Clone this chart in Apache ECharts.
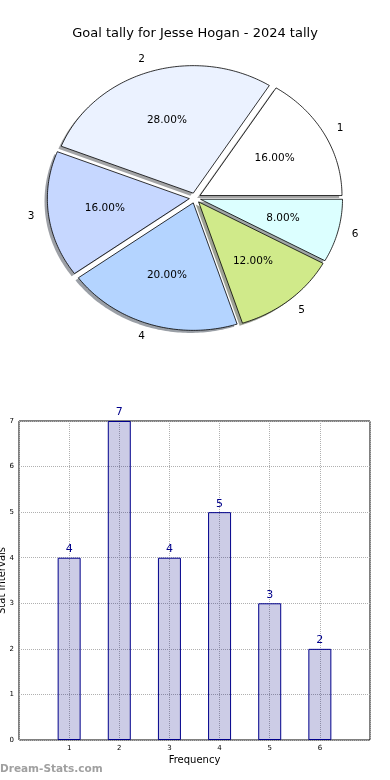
<!DOCTYPE html>
<html><head><meta charset="utf-8">
<script src="https://cdn.jsdelivr.net/npm/echarts@6/dist/echarts.min.js"></script>
<style>html,body{margin:0;padding:0;background:#fff}#c{width:390px;height:780px}</style>
</head><body><div id="c"></div>
<script>
const titleText = 'Goal tally for Jesse Hogan - 2024 tally';
const categories = ['1', '2', '3', '4', '5', '6'];
const values = [4, 7, 4, 5, 3, 2];
const sliceColors = ['#ffffff', '#ebf2ff', '#c6d7ff', '#b4d4ff', '#d0ea8a', '#dcffff'];
const barPositions = [1, 2, 3, 4, 5, 6];
const xTickLabels = ['', '1', '2', '3', '4', '5', '6', ''];
const yTickLabels = ['0', '1', '2', '3', '4', '5', '6', '7'];
const xAxisName = 'Frequency';
const yAxisName = 'Stat Intervals';
const watermark = 'Dream-Stats.com';

const FONT = 'DejaVu Sans';
const PIE = { cx: 195, cy: 198, rx: 142, ry: 127.5, explode: 0.04, shadowDx: -0.02, shadowDy: -0.02, pctDist: 0.6, labelDist: 1.1 };

const total = values.reduce((a, b) => a + b, 0);
const cum = [0];
values.forEach((v, i) => cum.push(cum[i] + v));

function geom(i) {
  const a0 = cum[i] / total * 2 * Math.PI;
  const a1 = cum[i + 1] / total * 2 * Math.PI;
  const mid = (a0 + a1) / 2;
  const ex = PIE.cx + PIE.explode * PIE.rx * Math.cos(mid);
  const ey = PIE.cy - PIE.explode * PIE.ry * Math.sin(mid);
  return { a0, a1, mid, ex, ey };
}
function wedgePoints(i, dx, dy) {
  const g = geom(i);
  const x0 = g.ex + dx, y0 = g.ey + dy;
  const pts = [[x0, y0]];
  const n = Math.max(8, Math.ceil((g.a1 - g.a0) / (Math.PI / 180)));
  for (let k = 0; k <= n; k++) {
    const a = g.a0 + (g.a1 - g.a0) * k / n;
    pts.push([x0 + PIE.rx * Math.cos(a), y0 - PIE.ry * Math.sin(a)]);
  }
  return pts;
}
function shadowColor(hex) {
  const r = parseInt(hex.slice(1, 3), 16), g = parseInt(hex.slice(3, 5), 16), b = parseInt(hex.slice(5, 7), 16);
  return 'rgba(' + Math.round(r * 0.3) + ',' + Math.round(g * 0.3) + ',' + Math.round(b * 0.3) + ',0.5)';
}

const pieData = categories.map((c, i) => [i, values[i]]);

const chart = echarts.init(document.getElementById('c'), null, { renderer: 'canvas' });
chart.setOption({
  animation: false,
  backgroundColor: '#fff',
  title: {
    text: titleText, left: 'center', top: 22,
    textStyle: { fontFamily: FONT, fontSize: 13, fontWeight: 'normal', color: '#000' }
  },
  grid: { left: 19, right: 20, top: 421, bottom: 40, show: true, borderColor: '#000', borderWidth: 1, backgroundColor: 'transparent', containLabel: false, outerBoundsMode: 'none' },
  xAxis: {
    type: 'value', min: 0, max: 7, interval: 1, position: 'bottom',
    name: xAxisName, nameLocation: 'middle', nameGap: 15, nameMoveOverlap: false,
    nameTextStyle: { fontFamily: FONT, fontSize: 10, color: '#000' },
    axisLine: { show: false },
    axisTick: { show: false },
    axisLabel: { fontFamily: FONT, fontSize: 7, color: '#000', margin: 5, formatter: v => xTickLabels[v] },
    splitLine: { show: true, lineStyle: { type: 'dotted', color: '#b0b0b0', width: 1 } }
  },
  yAxis: {
    type: 'value', min: 0, max: 7, interval: 1, position: 'left',
    name: yAxisName, nameLocation: 'middle', nameGap: 12, nameRotate: 90, nameMoveOverlap: false,
    nameTextStyle: { fontFamily: FONT, fontSize: 10, color: '#000' },
    axisLine: { show: false },
    axisTick: { show: false },
    axisLabel: { fontFamily: FONT, fontSize: 7, color: '#000', margin: 5, formatter: v => yTickLabels[v] },
    splitLine: { show: true, lineStyle: { type: 'dotted', color: '#b0b0b0', width: 1 } }
  },
  graphic: [{
    type: 'text', left: 0, top: 764, silent: true,
    style: { text: watermark, fill: '#a0a0a0', font: 'bold 10.5px "DejaVu Sans"' }
  }],
  series: [{
    type: 'custom', coordinateSystem: 'none', silent: true, z: 1,
    data: pieData,
    renderItem: (params, api) => {
      const i = params.dataIndex;
      return {
        type: 'polygon',
        shape: { points: wedgePoints(i, PIE.shadowDx * PIE.rx, -PIE.shadowDy * PIE.ry) },
        style: { fill: shadowColor(sliceColors[i]), stroke: null }
      };
    }
  }, {
    type: 'custom', coordinateSystem: 'none', silent: true, z: 2,
    data: pieData,
    renderItem: (params, api) => {
      const i = params.dataIndex;
      const g = geom(i);
      const c = Math.cos(g.mid), s = Math.sin(g.mid);
      const pct = (api.value(1) / total * 100).toFixed(2) + '%';
      return {
        type: 'group',
        children: [{
          type: 'polygon',
          shape: { points: wedgePoints(i, 0, 0) },
          style: { fill: sliceColors[i], stroke: '#000', lineWidth: 0.8, lineJoin: 'round' }
        }, {
          type: 'text',
          x: g.ex + PIE.pctDist * PIE.rx * c, y: g.ey - PIE.pctDist * PIE.ry * s,
          style: { text: pct, fill: '#000', font: '10.5px "DejaVu Sans"', align: 'center', verticalAlign: 'middle' }
        }, {
          type: 'text',
          x: g.ex + PIE.labelDist * PIE.rx * c, y: g.ey - PIE.labelDist * PIE.ry * s,
          style: { text: categories[i], fill: '#000', font: '10.5px "DejaVu Sans"', align: c > 0 ? 'left' : 'right', verticalAlign: 'middle' }
        }]
      };
    }
  }, {
    type: 'bar', z: 3,
    data: barPositions.map((x, i) => [x, values[i]]),
    barWidth: 23,
    itemStyle: { color: 'rgba(0,0,128,0.2)', borderColor: '#00008b', borderWidth: 1 },
    label: { show: true, position: 'top', distance: 3, color: '#00008b', fontFamily: FONT, fontSize: 11 }
  }]
});
</script>
</body></html>
